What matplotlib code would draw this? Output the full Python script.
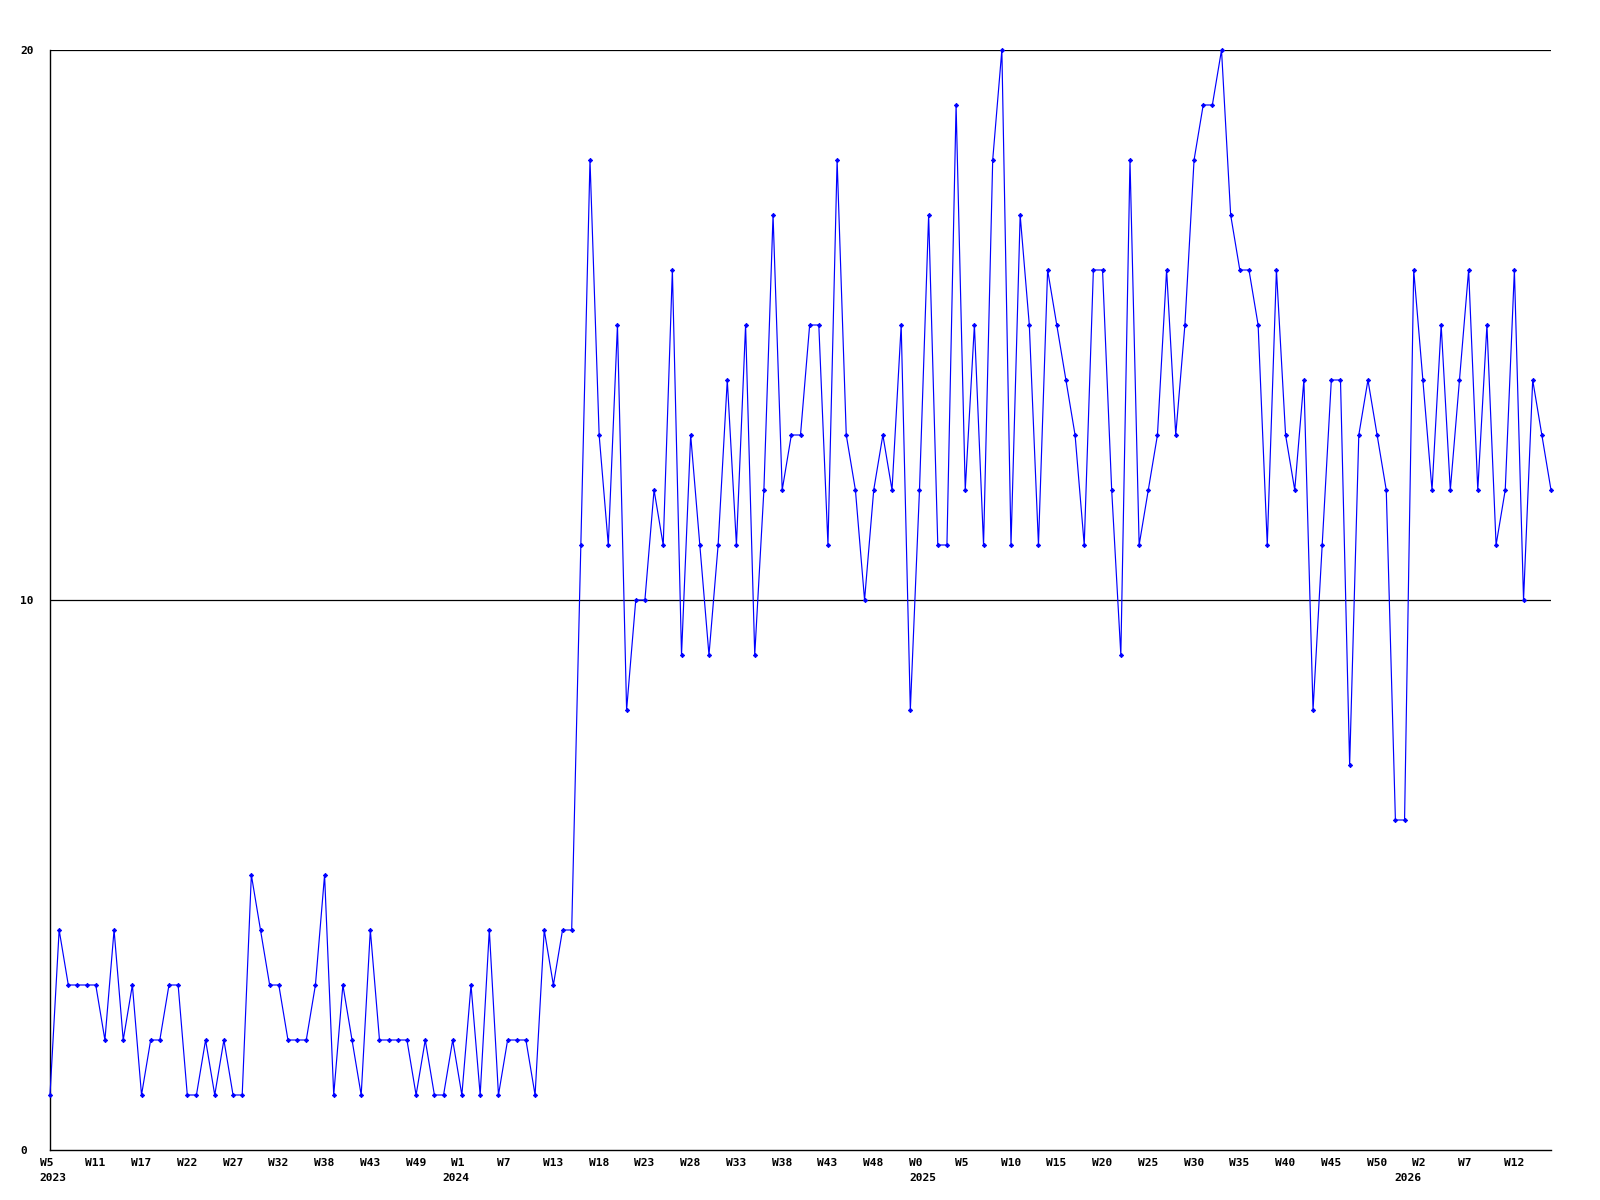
import matplotlib
matplotlib.use("Agg")
import matplotlib.pyplot as plt
from matplotlib.transforms import blended_transform_factory, ScaledTranslation

# valores semanales (un punto por semana)
valores = [
    1, 4, 3, 3, 3, 3, 2, 4, 2, 3, 1, 2, 2, 3, 3, 1, 1, 2, 1, 2, 1, 1, 5, 4, 3, 3, 2, 2, 2, 3, 5,
    1, 3, 2, 1, 4, 2, 2, 2, 2, 1, 2, 1, 1, 2, 1, 3, 1, 4, 1, 2, 2, 2, 1, 4, 3, 4, 4,
    11, 18, 13, 11, 15, 8, 10, 10, 12, 11, 16, 9, 13, 11, 9, 11, 14, 11, 15, 9, 12, 17,
    12, 13, 13, 15, 15, 11, 18, 13, 12, 10, 12, 13, 12, 15, 8, 12, 17, 11, 11, 19, 12, 15,
    11, 18, 20, 11, 17, 15, 11, 16, 15, 14, 13, 11, 16, 16, 12, 9, 18, 11, 12, 13, 16,
    13, 15, 18, 19, 19, 20, 17, 16, 16, 15, 11, 16, 13, 12, 14, 8, 11, 14, 14, 7, 13, 14,
    13, 12, 6, 6, 16, 14, 12, 15, 12, 14, 16, 12, 15, 11, 12, 16, 10, 14, 13, 12,
]
x = list(range(len(valores)))

semanas = ["W5", "W11", "W17", "W22", "W27", "W32", "W38", "W43", "W49", "W1", "W7",
           "W13", "W18", "W23", "W28", "W33", "W38", "W43", "W48", "W0", "W5", "W10",
           "W15", "W20", "W25", "W30", "W35", "W40", "W45", "W50", "W2", "W7", "W12"]
pos_semanas = list(range(0, 5 * len(semanas), 5))

anios = ["2023", "2024", "2025", "2026"]
pos_anios = [0, 44, 95, 148]

y_ticks = [0, 10, 20]

fig = plt.figure(figsize=(16, 12), dpi=100)
ax = fig.add_axes([50 / 1600, 50 / 1200, 1501 / 1600, 1100 / 1200])

ax.plot(x, valores, color="#0000ff", lw=0.85, marker="D", ms=2.2, mew=0.6,
        mec="#0000ff", mfc="#0000ff", clip_on=False, zorder=3)

ax.set_xlim(0, len(valores) - 1)
ax.set_ylim(0, 20)
for v in y_ticks[1:]:
    ax.axhline(v, color="black", lw=0.9, zorder=1)

for s in ["top", "right"]:
    ax.spines[s].set_visible(False)
for s in ["left", "bottom"]:
    ax.spines[s].set_linewidth(1.0)
ax.set_xticks([])
ax.set_yticks([])

fuente = dict(family="DejaVu Sans Mono", fontweight="bold", fontsize=8.1, color="black")

# etiquetas del eje x
tr = blended_transform_factory(ax.transData, ax.transAxes)
desp = ScaledTranslation(-10.5 / 100, 0, fig.dpi_scale_trans)
for p, s in zip(pos_semanas, semanas):
    ax.text(p, -16 / 1100, s, transform=tr + desp, ha="left", va="baseline", **fuente)
for p, a in zip(pos_anios, anios):
    ax.text(p, -31 / 1100, a, transform=tr + desp, ha="left", va="baseline", **fuente)

# etiquetas del eje y
tr_y = blended_transform_factory(ax.transAxes, ax.transData)
for v in y_ticks:
    ax.text(-30 / 1501, v, str(v), transform=tr_y + ScaledTranslation(0, -3.5 / 100, fig.dpi_scale_trans),
            ha="left", va="baseline", **fuente)

fig.savefig("out.png", dpi=100)
